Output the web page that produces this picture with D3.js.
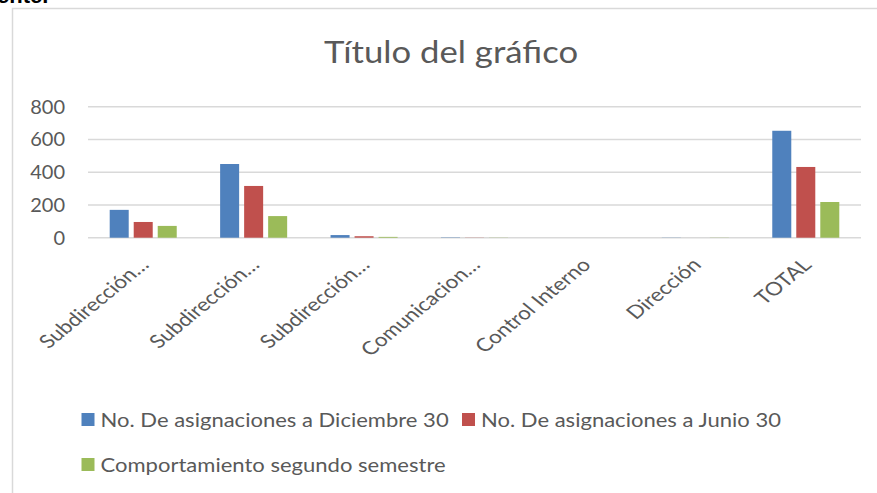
<!DOCTYPE html>
<html>
<head>
<meta charset="utf-8">
<script src="https://cdn.jsdelivr.net/npm/d3@7"></script>
<style>
  html, body { margin: 0; padding: 0; background: #fff; }
  svg { display: block; }
  text { font-family: Lato, "Open Sans", sans-serif; fill: #595959; }
</style>
</head>
<body>
<svg id="chart" width="877" height="493"></svg>
<script>
const categories = ["Subdirección…", "Subdirección…", "Subdirección…", "Comunicacion…", "Control Interno", "Dirección", "TOTAL"];
const seriesNames = ["No. De asignaciones a Diciembre 30", "No. De asignaciones a Junio 30", "Comportamiento segundo semestre"];
const diciembre = [170, 450, 16, 2, 0, 1, 653];
const junio = [96, 316, 9, 1, 0, 0, 432];
const comportamiento = [72, 132, 5, 1, 0, 1, 218];
const yTicks = [0, 200, 400, 600, 800];
const colors = ["#4f81bd", "#c0504d", "#9bbb59"];

const seriesValues = [diciembre, junio, comportamiento];
const svg = d3.select("#chart");
const stretch = 1.13;

// cut-off heading text at top-left (part of the surrounding document)
svg.append("text").attr("x", -3).attr("y", 3)
  .style("font-family", "Liberation Sans, Arial, sans-serif")
  .style("font-weight", "bold").style("font-size", "22px").style("fill", "#000")
  .text("ente.");

// chart area border
svg.append("rect").attr("x", 12.5).attr("y", 8.5).attr("width", 880).attr("height", 500)
  .attr("fill", "none").attr("stroke", "#d9d9d9").attr("stroke-width", 1.5);

// title
svg.append("text").attr("text-anchor", "middle")
  .attr("transform", `translate(451,63) scale(1.12,1)`)
  .style("font-size", "31px").text("Título del gráfico");

const plotLeft = 88, plotRight = 861, plotTop = 106.7, plotBottom = 237.7;
const y = d3.scaleLinear().domain([0, 800]).range([plotBottom, plotTop]);
const x0 = d3.scaleBand().domain(d3.range(categories.length)).range([plotLeft, plotRight])
  .paddingInner(0.393).paddingOuter(0.1965);
const x1 = d3.scaleBand().domain(d3.range(seriesNames.length)).range([0, x0.bandwidth()])
  .paddingInner(0.2083);

// gridlines
svg.append("g").selectAll("line").data(yTicks).join("line")
  .attr("x1", plotLeft).attr("x2", plotRight)
  .attr("y1", d => y(d)).attr("y2", d => y(d))
  .attr("stroke", "#d9d9d9").attr("stroke-width", 1.5);

// y axis labels
const yAxis = d3.axisLeft(y).tickValues(yTicks).tickSize(0).tickPadding(0);
const gy = svg.append("g").attr("transform", "translate(65,0)").call(yAxis);
gy.select(".domain").remove();
gy.selectAll("text").style("font-size", "20px").style("font-family", "Lato, sans-serif")
  .attr("fill", "#595959");

// bars
const groups = svg.append("g").selectAll("g").data(categories.map((c, i) => i)).join("g")
  .attr("transform", i => `translate(${x0(i)},0)`);
groups.selectAll("rect").data(i => seriesValues.map((vals, s) => ({ s, v: vals[i] }))).join("rect")
  .attr("x", d => x1(d.s)).attr("width", x1.bandwidth())
  .attr("y", d => y(d.v)).attr("height", d => plotBottom - y(d.v))
  .attr("fill", d => colors[d.s]);

// x labels
svg.append("g").selectAll("text").data(categories).join("text")
  .attr("text-anchor", "end")
  .attr("transform", (d, i) => `translate(${x0(i) + x0.bandwidth() / 2 + 7},266) scale(1.22,1) rotate(-45)`)
  .style("font-size", "18.5px").text(d => d);

// legend
const legendItems = [
  { s: 0, x: 81.5, y: 420 },
  { s: 1, x: 462, y: 420 },
  { s: 2, x: 81.5, y: 465 }
];
const lg = svg.append("g").selectAll("g").data(legendItems).join("g")
  .attr("transform", d => `translate(${d.x},${d.y})`);
lg.append("rect").attr("x", 0).attr("y", -7).attr("width", 13).attr("height", 13)
  .attr("fill", d => colors[d.s]);
lg.append("text").attr("transform", `translate(19,0) scale(${stretch},1)`).attr("dy", "0.35em")
  .style("font-size", "19.5px").text(d => seriesNames[d.s]);
</script>
</body>
</html>
